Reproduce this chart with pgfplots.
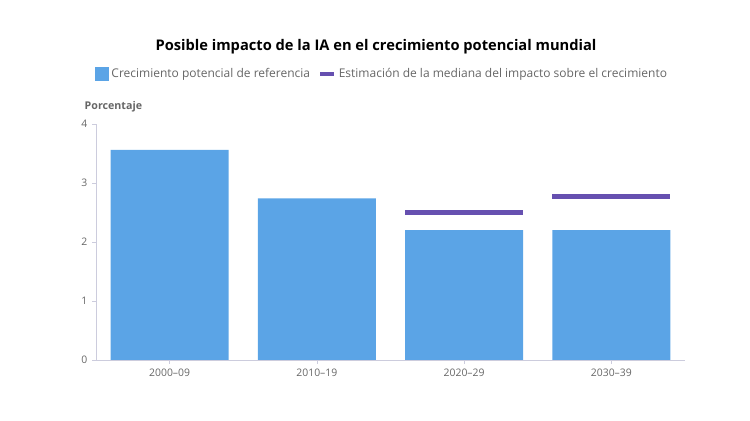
\documentclass[border=0pt]{standalone}
\usepackage{fontspec}
\setmainfont{Open Sans}
\usepackage{pgfplots}
\pgfplotsset{compat=1.18}
\definecolor{barblue}{HTML}{5BA4E6}
\definecolor{medpurple}{HTML}{6650B0}
\definecolor{txtgray}{HTML}{666666}
\definecolor{axgray}{HTML}{CCCCDD}
\begin{document}
\begin{tikzpicture}
\path (0pt,0pt) rectangle (562.5pt,315.75pt);
\node[font=\bfseries\fontsize{11}{13}\selectfont, text=black] at (282pt,280.5pt) {Posible impacto de la IA en el crecimiento potencial mundial};
\node[anchor=west, font=\bfseries\fontsize{8}{10}\selectfont, text=txtgray] at (60pt,235.5pt) {Porcentaje};
\begin{axis}[
  at={(72pt,45.75pt)}, anchor=south west,
  scale only axis,
  width=441.75pt, height=177pt,
  xmin=-0.5, xmax=3.5, ymin=0, ymax=4,
  axis lines=left,
  axis line style={draw=axgray, -},
  xtick={0,1,2,3},
  xticklabels={2000–09,2010–19,2020–29,2030–39},
  ytick={0,1,2,3,4},
  tick style={draw=axgray},
  tick align=outside,
  major tick length=3pt,
  ticklabel style={font=\fontsize{7.8}{10}\selectfont, text=txtgray},
  /pgf/number format/assume math mode=true,
  clip=false,
  legend columns=2,
  legend style={at={(axis description cs:0.486,1.212)}, anchor=center, draw=none, fill=none,
    font=\fontsize{9}{11}\selectfont, text=txtgray,
    /tikz/every even column/.append style={column sep=4pt}},
  legend cell align=left,
]
\addplot[ybar, bar width=0.8, fill=barblue, draw=none,
  legend image code/.code={\fill[barblue] (0pt,-5.25pt) rectangle (10.5pt,5.25pt);}]
  coordinates {(0,3.56) (1,2.74) (2,2.20) (3,2.20)};
\addlegendentry{Crecimiento potencial de referencia}
\addplot[medpurple, line width=3.75pt,
  legend image code/.code={\draw[medpurple, line width=3pt] (0pt,0pt) -- (10.5pt,0pt);}]
  coordinates {(1.6,2.50) (2.4,2.50)};
\addlegendentry{Estimación de la mediana del impacto sobre el crecimiento}
\addplot[medpurple, line width=3.75pt, forget plot]
  coordinates {(2.6,2.77) (3.4,2.77)};
\end{axis}
\end{tikzpicture}
\end{document}
